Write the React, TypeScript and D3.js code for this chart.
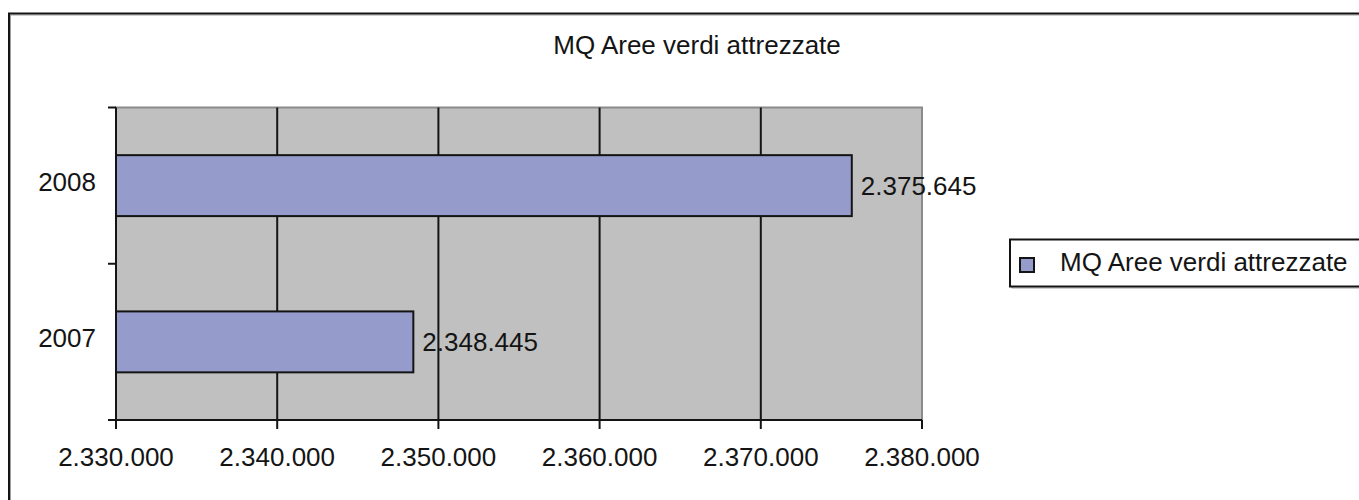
import React from "react";
import * as d3 from "d3";

// dati
const years = ["2008", "2007"];
const values = [2375645, 2348445];
const xTicks = [2330000, 2340000, 2350000, 2360000, 2370000, 2380000];
const title = "MQ Aree verdi attrezzate";
const seriesName = "MQ Aree verdi attrezzate";

const itFormat = d3.formatLocale({
  decimal: ",",
  thousands: ".",
  grouping: [3],
  currency: ["€", ""],
}).format(",d");

export default function App() {
  const width = 1359;
  const height = 500;
  const plot = { left: 116, right: 922, top: 107.5, bottom: 420 };
  const font = "'Liberation Sans', Arial, sans-serif";
  const ink = "#141414";

  const x = d3.scaleLinear().domain([2330000, 2380000]).range([plot.left, plot.right]);
  const y = d3.scaleBand().domain(years).range([plot.top, plot.bottom]).paddingInner(0.61).paddingOuter(0.305);
  const band = d3.scaleBand().domain(years).range([plot.top, plot.bottom]);
  const catTicks = [plot.top, ...years.map((yr) => (band(yr) as number) + band.bandwidth())];

  return (
    <svg
      width={width}
      height={height}
      style={{ position: "absolute", left: 0, top: 0, background: "#fff" }}
      fontFamily={font}
    >
      {/* cornice esterna */}
      <rect x={9.5} y={14} width={1400} height={600} fill="none" stroke="#a0a0a0" strokeWidth={1} transform="translate(1,1)" />
      <rect x={9} y={13.5} width={1400} height={600} fill="none" stroke={ink} strokeWidth={2} />

      <text x={697} y={54} textAnchor="middle" fontSize={26} fill={ink}>{title}</text>

      {/* area del grafico */}
      <rect x={plot.left} y={plot.top} width={plot.right - plot.left} height={plot.bottom - plot.top} fill="#c0c0c0" stroke="#8a8a8a" strokeWidth={2} />

      {xTicks.slice(1, -1).map((t) => (
        <line key={t} x1={x(t)} x2={x(t)} y1={plot.top} y2={plot.bottom} stroke={ink} strokeWidth={2} />
      ))}

      {years.map((yr, i) => (
        <g key={yr}>
          <rect
            x={x(2330000)}
            y={y(yr)}
            width={x(values[i]) - x(2330000)}
            height={y.bandwidth()}
            fill="#959ccb"
            stroke={ink}
            strokeWidth={2}
          />
          <text x={x(values[i]) + 9} y={(y(yr) as number) + y.bandwidth() / 2 + 9} fontSize={26} fill={ink}>
            {itFormat(values[i])}
          </text>
          <text x={96} y={(band(yr) as number) + band.bandwidth() / 2 + 5} textAnchor="end" fontSize={26} fill={ink}>
            {yr}
          </text>
        </g>
      ))}

      {/* assi */}
      <line x1={plot.left} x2={plot.left} y1={plot.top} y2={plot.bottom} stroke={ink} strokeWidth={2} />
      <line x1={plot.left} x2={plot.right} y1={plot.bottom} y2={plot.bottom} stroke={ink} strokeWidth={2} />
      {catTicks.map((t, i) => (
        <line key={i} x1={108} x2={plot.left} y1={t} y2={t} stroke={ink} strokeWidth={2} />
      ))}
      {xTicks.map((t) => (
        <g key={t}>
          <line x1={x(t)} x2={x(t)} y1={plot.bottom} y2={plot.bottom + 9} stroke={ink} strokeWidth={2} />
          <text x={x(t)} y={466} textAnchor="middle" fontSize={26} fill={ink}>{itFormat(t)}</text>
        </g>
      ))}

      {/* legenda */}
      <rect x={1011} y={240} width={400} height={47} fill="none" stroke="#a0a0a0" strokeWidth={1} transform="translate(1,1)" />
      <rect x={1010} y={239.5} width={400} height={47} fill="#fff" stroke={ink} strokeWidth={2} />
      <rect x={1020} y={258} width={14} height={14} fill="#959ccb" stroke={ink} strokeWidth={2} />
      <text x={1060} y={271} fontSize={26} fill={ink}>{seriesName}</text>
    </svg>
  );
}
